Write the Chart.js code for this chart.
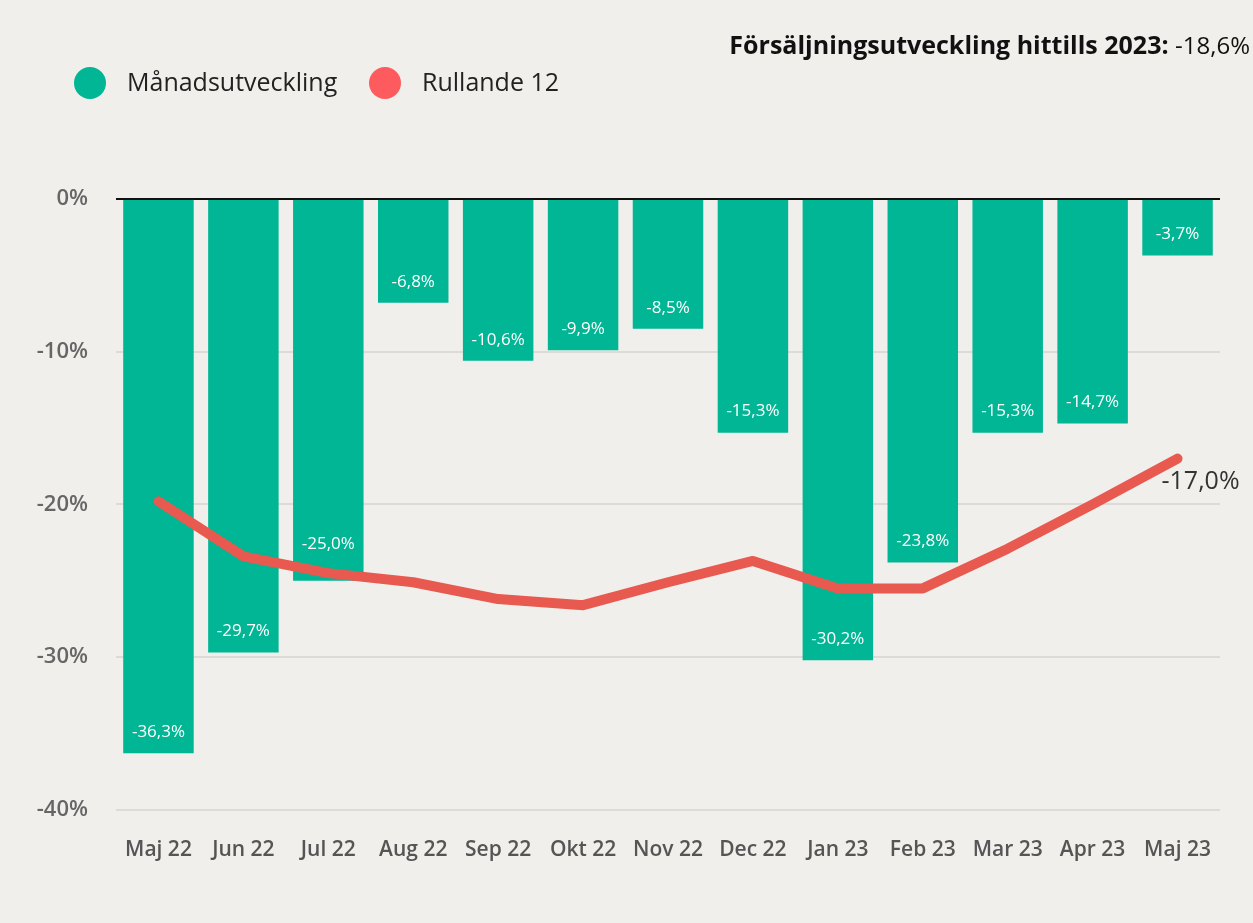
<!DOCTYPE html>
<html>
<head>
<meta charset="utf-8">
<script src="https://cdn.jsdelivr.net/npm/chart.js@4.4.0/dist/chart.umd.min.js"></script>
<style>
  html, body { margin: 0; padding: 0; background: #F0EFEB; }
  canvas { display: block; }
</style>
</head>
<body>
<canvas id="salesChart" width="1253" height="923"></canvas>
<script>
var months = ["Maj 22", "Jun 22", "Jul 22", "Aug 22", "Sep 22", "Okt 22", "Nov 22", "Dec 22", "Jan 23", "Feb 23", "Mar 23", "Apr 23", "Maj 23"];
var monthly = [-36.3, -29.7, -25.0, -6.8, -10.6, -9.9, -8.5, -15.3, -30.2, -23.8, -15.3, -14.7, -3.7];
var rolling12 = [-19.8, -23.4, -24.5, -25.1, -26.2, -26.6, -25.1, -23.7, -25.5, -25.5, -22.9, -20.0, -17.0];
var yTicks = [0, -10, -20, -30, -40];
var headline = "Försäljningsutveckling hittills 2023:";
var headlineValue = "-18,6%";

var FONT = "'Open Sans', 'Noto Sans', sans-serif";
var TEAL = "#00B694";
var RED_LINE = "#E8594F";
var RED_DOT = "#FD5B5E";

function sv(v) {
  return v.toFixed(1).replace(".", ",") + "%";
}

// title top right + custom legend
var decorPlugin = {
  id: "decor",
  afterDraw: function (chart) {
    var ctx = chart.ctx;
    ctx.save();
    ctx.textBaseline = "alphabetic";
    ctx.textAlign = "right";
    ctx.fillStyle = "#111";
    ctx.font = "400 24px " + FONT;
    var right = 1250;
    ctx.fillText(headlineValue, right, 54);
    var w = ctx.measureText(headlineValue).width;
    ctx.font = "700 25px " + FONT;
    ctx.fillText(headline + " ", right - w, 54);

    // legend
    var items = [
      { label: chart.data.datasets[0].label, color: TEAL, x: 90 },
      { label: chart.data.datasets[1].label, color: RED_DOT, x: 385 }
    ];
    ctx.textAlign = "left";
    ctx.textBaseline = "middle";
    ctx.font = "400 25px " + FONT;
    items.forEach(function (it) {
      ctx.beginPath();
      ctx.fillStyle = it.color;
      ctx.arc(it.x, 83, 16, 0, Math.PI * 2);
      ctx.fill();
      ctx.fillStyle = "#222";
      ctx.fillText(it.label, it.x + 37, 84);
    });
    ctx.restore();
  }
};

// bar labels inside end + last line label
var labelPlugin = {
  id: "valueLabels",
  afterDatasetsDraw: function (chart) {
    var ctx = chart.ctx;
    var bars = chart.getDatasetMeta(0).data;
    var pts = chart.getDatasetMeta(1).data;
    ctx.save();
    ctx.textAlign = "center";
    ctx.textBaseline = "middle";
    ctx.font = "500 17px " + FONT;
    ctx.fillStyle = "#fff";
    bars.forEach(function (bar, i) {
      var y = bar.y - 21;
      var ly = pts[i].y;
      if (Math.abs(y - ly) < 22) y = ly - 29;
      ctx.fillText(sv(monthly[i]), bar.x, y);
    });
    var last = pts[pts.length - 1];
    ctx.font = "500 25px " + FONT;
    ctx.fillStyle = "#333";
    ctx.fillText(sv(rolling12[rolling12.length - 1]), last.x + 23, last.y + 23);
    ctx.restore();
  }
};

var ctx = document.getElementById("salesChart");
var chart = new Chart(ctx, {
  data: {
    labels: months,
    datasets: [
      {
        type: "bar",
        label: "Månadsutveckling",
        data: monthly,
        backgroundColor: TEAL,
        barPercentage: 0.83,
        categoryPercentage: 1,
        order: 2
      },
      {
        type: "line",
        label: "Rullande 12",
        data: rolling12,
        borderColor: RED_LINE,
        backgroundColor: RED_DOT,
        borderWidth: 10,
        borderCapStyle: "round",
        borderJoinStyle: "round",
        pointRadius: 0,
        tension: 0,
        order: 1
      }
    ]
  },
  options: {
    responsive: false,
    animation: false,
    layout: { padding: { top: 199, right: 33, bottom: 40, left: 0 } },
    plugins: {
      legend: { display: false },
      title: { display: false },
      tooltip: { enabled: false }
    },
    scales: {
      x: {
        grid: { display: false },
        border: { display: false },
        ticks: {
          color: "#555",
          padding: 20,
          maxRotation: 0,
          autoSkip: false,
          font: { family: FONT, size: 21, weight: "600" }
        }
      },
      y: {
        min: -40,
        max: 0,
        afterFit: function (scale) { scale.width = 116; },
        afterBuildTicks: function (scale) {
          scale.ticks = yTicks.map(function (v) { return { value: v }; });
        },
        border: { display: false },
        grid: {
          drawTicks: false,
          color: function (c) { return c.tick && c.tick.value === 0 ? "#111" : "#DCDBD8"; },
          lineWidth: 2
        },
        ticks: {
          color: "#666",
          padding: 28,
          font: { family: FONT, size: 22, weight: "600" },
          callback: function (v) { return v + "%"; }
        }
      }
    }
  },
  plugins: [decorPlugin, labelPlugin]
});
</script>
</body>
</html>
